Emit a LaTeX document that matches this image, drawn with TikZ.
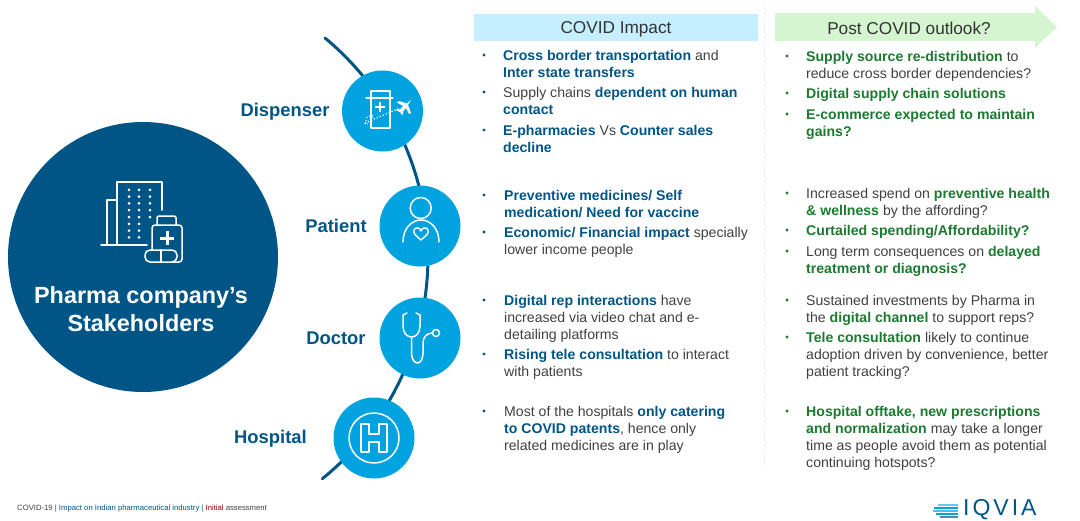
\documentclass[tikz,border=0pt]{standalone}
\usepackage{fontspec}
\setmainfont{Liberation Sans}
\usepackage{xcolor}
\usetikzlibrary{positioning}
\usetikzlibrary{shapes}
\definecolor{navy}{HTML}{005587}
\definecolor{sky}{HTML}{00A3E0}
\definecolor{leaf}{HTML}{1B7A2F}
\definecolor{ink}{HTML}{404040}
\definecolor{headblue}{HTML}{C5EEFF}
\definecolor{headgreen}{HTML}{D5F5D0}
\newcommand{\bb}[1]{\textcolor{navy}{\textbf{#1}}}
\newcommand{\gb}[1]{\textcolor{leaf}{\textbf{#1}}}
\tikzset{
  hub/.style={circle,fill=navy,minimum size=270pt,inner sep=0pt},
  spoke/.style={circle,fill=sky,minimum size=81pt,inner sep=0pt},
  who/.style={text=navy,font=\fontsize{18.4}{20}\selectfont\bfseries,inner sep=0pt},
  lst/.style={anchor=north west,align=left,inner sep=0pt,text=ink,font=\fontsize{14.1}{17}\selectfont},
  bul/.style={circle,inner sep=0pt,minimum size=3.4pt},
  head/.style={text=black!80,font=\fontsize{17.2}{19}\selectfont,inner sep=0pt},
  ico/.style={draw=white,line width=1.5pt,line join=round,line cap=round},
}
\begin{document}
\begin{tikzpicture}
  [x=1pt,y=-1pt]
  \useasboundingbox (0,0) rectangle (1080,520);
  % ring behind the circles
  \coordinate (spinetop) at (325,38);
  \draw[navy,line width=3pt,line cap=round] (spinetop) arc[start angle=-50.3,end angle=51,radius=285];

  \node[hub] (hub) at (143,257) {};
  \node[spoke] (disp) at (382.5,111) {};
  \node[spoke] (pat) at (420,226) {};
  \node[spoke] (doc) at (420,338) {};
  \node[spoke] (hosp) at (374,438) {};

  \node[who] (ldisp) at (285,112) {Dispenser};
  \node[who] (lpat) at (336,226) {Patient};
  \node[who] (ldoc) at (336,338.5) {Doctor};
  \node[who] (lhosp) at (270.5,439) {Hospital};

  \node[align=center,text=white,inner sep=0pt,font=\fontsize{23.4}{28}\selectfont\bfseries] (title) at (141,309) {Pharma company’s\\Stakeholders};

  % building and bottle
  \draw[ico] (117,245) -- (117,182) -- (162,182) -- (162,210);
  \draw[ico] (117,200) -- (107,200) -- (107,245);
  \draw[ico] (101,245) -- (147,245);
  \foreach \x/\n in {129/8,139/8,150/5}
    \foreach \i in {1,...,\n}
      \fill[white] (\x,183+\i*6.8) circle (1.5pt);
  \draw[ico,rounded corners=1.5pt] (157,225) -- (157,216) -- (176,216) -- (176,225);
  \draw[ico,rounded corners=3pt] (152,250) -- (152,225) -- (182,225) -- (182,262) -- (170,262);
  \draw[white,line width=3pt] (167,231) -- (167,245) (160,238) -- (174,238);
  \draw[ico,rounded corners=5pt,fill=navy] (145,250) rectangle (177,262);
  \draw[ico] (161,250) -- (161,262);

  % bottle and plane
  \draw[ico,line width=1.2pt] (371,98) -- (371,91) -- (390,91) -- (390,98);
  \draw[ico,line width=1.2pt] (366,98) -- (393,98);
  \draw[ico,line width=1.2pt] (371,98) -- (371,128) -- (390,128) -- (390,98);
  \draw[white,line width=1.8pt] (380,102) -- (380,112) (375,107) -- (385,107);
  \draw[white,line width=1.2pt,dotted] (365,123) -- (400,108);
  \draw[white,line width=1.1pt,dotted] (365,124) -- (367,117) -- (373,115) -- (371,123) -- cycle;
  \fill[white] (411,100) -- (407,103.5) -- (399,101) -- (397,102.5) -- (403,106) -- (400,109.5) -- (397,109) -- (396,110) -- (400,112) -- (402,115) -- (403,114) -- (403,111.5) -- (406,108) -- (409,114) -- (411,113) -- (408,105) -- cycle;

  % patient
  \draw[ico] (420.7,208) circle (10.5pt);
  \draw[ico] (403,242) .. controls (403,228) and (412,220) .. (421,220) .. controls (430,220) and (439,228) .. (439,242);
  \draw[ico,line width=1.4pt] (421,240) .. controls (415,235) and (413,233) .. (414,230) .. controls (415,227) and (420,227) .. (421,231) .. controls (422,227) and (427,227) .. (428,230) .. controls (429,233) and (427,235) .. (421,240) -- cycle;

  % stethoscope
  \draw[ico] (407,313) -- (403,315) -- (403,326) .. controls (403,333) and (407,337) .. (411.5,337) .. controls (416,337) and (420,333) .. (420,326) -- (420,315) -- (416,313);
  \draw[ico] (411.5,337) -- (411.5,353) .. controls (411.5,358) and (414,363) .. (417.5,363) .. controls (421,363) and (423,358) .. (423,353) -- (423,343) .. controls (423,337) and (427,333) .. (432.5,333);
  \draw[ico] (436,333) circle (3.5pt);

  % hospital sign
  \draw[ico] (hosp) circle (25pt);
  \draw[ico,line width=1.2pt] (361,424) -- (369,424) -- (369,434) -- (379,434) -- (379,424) -- (387,424) -- (387,452) -- (379,452) -- (379,442) -- (369,442) -- (369,452) -- (361,452) -- cycle;

  % column heads
  \node[fill=headblue,minimum width=284pt,minimum height=27pt,inner sep=0pt] (hleft) at (616,27.5) {};
  \node[head] (tleft) at (616,29) {COVID Impact};
  \fill[headgreen] (775,13) -- (1035,13) -- (1035,6) -- (1057,27) -- (1035,48) -- (1035,41) -- (775,41) -- cycle;
  \coordinate (arrowmid) at (909,28);
  \node[head] (tright) at (arrowmid) {Post COVID outlook?};
  \draw[black!8,dashed,line width=.8pt] (764,6) -- (764,466);

  % left column
  \node[lst] (c1) at (503,50) {\bb{Cross border transportation} and\\\bb{Inter state transfers}};
  \node[lst] (c2) at (503,87) {Supply chains \bb{dependent on human}\\\bb{contact}};
  \node[lst] (c3) at (503,125) {\bb{E-pharmacies} Vs \bb{Counter sales}\\\bb{decline}};
  \node[lst] (c4) at (504,190) {\bb{Preventive medicines/ Self}\\\bb{medication/ Need for vaccine}};
  \node[lst] (c5) at (504,227) {\bb{Economic/ Financial impact} specially\\lower income people};
  \node[lst] (c6) at (504,295) {\bb{Digital rep interactions} have\\increased via video chat and e-\\detailing platforms};
  \node[lst] (c7) at (504,349) {\bb{Rising tele consultation} to interact\\with patients};
  \node[lst] (c8) at (504,406) {Most of the hospitals \bb{only catering}\\\bb{to COVID patents}, hence only\\related medicines are in play};

  % right column
  \node[lst] (p1) at (806,51) {\gb{Supply source re-distribution} to\\reduce cross border dependencies?};
  \node[lst] (p2) at (806,88) {\gb{Digital supply chain solutions}};
  \node[lst] (p3) at (806,109) {\gb{E-commerce expected to maintain}\\\gb{gains?}};
  \node[lst] (p4) at (806,188) {Increased spend on \gb{preventive health}\\\gb{\& wellness} by the affording?};
  \node[lst] (p5) at (806,225) {\gb{Curtailed spending/Affordability?}};
  \node[lst] (p6) at (806,246) {Long term consequences on \gb{delayed}\\\gb{treatment or diagnosis?}};
  \node[lst] (p7) at (806,295) {Sustained investments by Pharma in\\the \gb{digital channel} to support reps?};
  \node[lst] (p8) at (806,332) {\gb{Tele consultation} likely to continue\\adoption driven by convenience, better\\patient tracking?};
  \node[lst] (p9) at (806,406) {\gb{Hospital offtake, new prescriptions}\\\gb{and normalization} may take a longer\\time as people avoid them as potential\\continuing hotspots?};

  \foreach \n/\y in {c1/55,c2/92,c3/130,c4/195,c5/232,c6/300,c7/354,c8/411}
    \node[bul,fill=navy] (b\n) at (484,\y) {};
  \foreach \n/\y in {p1/56,p2/93,p3/114,p6/251,p7/300,p8/337,p9/411}
    \node[bul,fill=leaf] (b\n) at (787,\y) {};
  \foreach \n/\y in {p4/193,p5/230}
    \node[bul,fill=leaf] (b\n) at (787,\y) {};

  % footer
  \node[anchor=west,inner sep=0pt,text=ink,font=\fontsize{7.7}{9}\selectfont] (foot) at (17,509) {COVID-19 \textcolor{navy}{| Impact on Indian pharmaceutical industry |} \textcolor{red!60!black}{Initial} assessment};
  \foreach \y/\x/\c in {504/938/sky!60,507/934/sky,510/933/sky!70,513/936/sky,516/940/navy!70}
    \fill[\c] (\x,\y) rectangle (958,\y+2);
  \node[anchor=west,inner sep=0pt,text=navy,font=\fontsize{23}{25}\selectfont] (logo) at (963,510) {I\kern3pt Q\kern3pt V\kern3pt I\kern3pt A};
\end{tikzpicture}
\end{document}
